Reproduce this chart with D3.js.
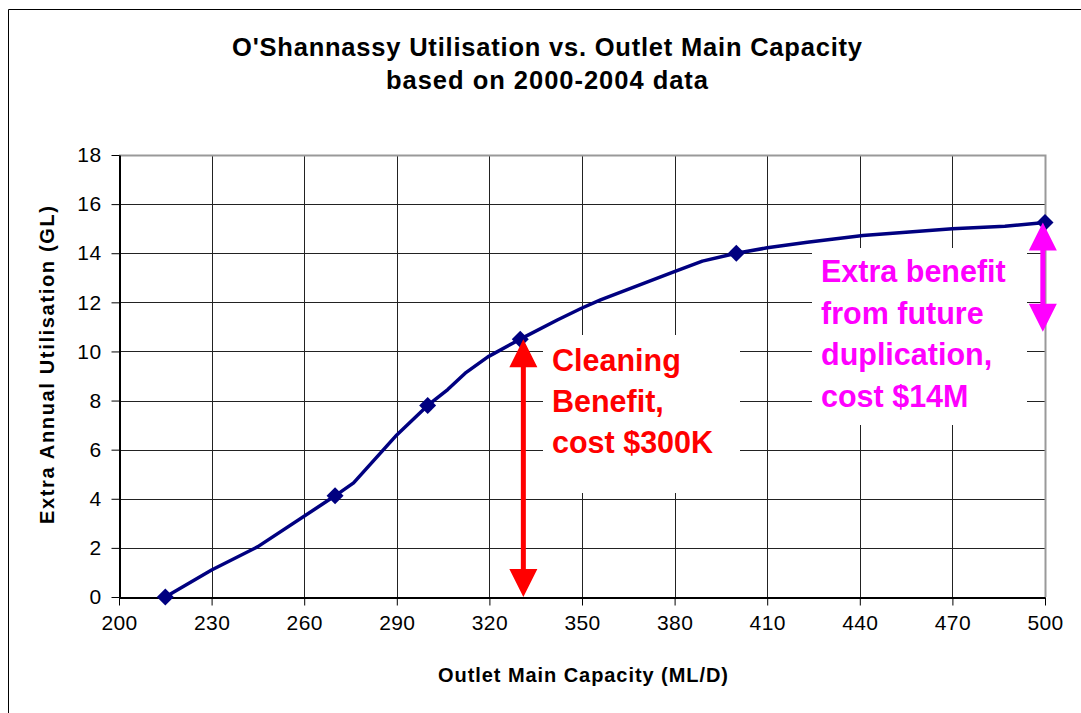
<!DOCTYPE html>
<html><head><meta charset="utf-8">
<script src="https://cdn.jsdelivr.net/npm/d3@7"></script>
<style>
html,body{margin:0;padding:0;background:#fff;}
svg{display:block;font-family:"Liberation Sans",Arial,sans-serif;}
</style></head>
<body>
<svg id="chart" width="1081" height="713"></svg>
<script>
// ---- data ----
const markerX = [215, 270, 300, 330, 400, 500];
const markerY = [0, 4.12, 7.8, 10.5, 14.0, 15.25];
const curveX = [215, 230, 245, 270, 276, 290, 300, 306.5, 312.5, 319.5, 330, 342, 350, 356, 379.5, 389, 400, 410, 423, 441, 470, 487, 500];
const curveY = [0, 1.1, 2.05, 4.12, 4.65, 6.6, 7.8, 8.45, 9.15, 9.78, 10.5, 11.28, 11.77, 12.1, 13.23, 13.68, 14.0, 14.22, 14.45, 14.72, 15.0, 15.1, 15.25];
const xTicks = [200, 230, 260, 290, 320, 350, 380, 410, 440, 470, 500];
const yTicks = [0, 2, 4, 6, 8, 10, 12, 14, 16, 18];
const titleLines = ["O'Shannassy Utilisation vs. Outlet Main Capacity", "based on 2000-2004 data"];
const xTitle = "Outlet Main Capacity (ML/D)";
const yTitle = "Extra Annual Utilisation (GL)";
const cleaningLines = ["Cleaning", "Benefit,", "cost $300K"];
const cleaningRange = [0, 10.5];
const dupLines = ["Extra benefit", "from future", "duplication,", "cost $14M"];
const dupRange = [10.5, 15.25];

const svg = d3.select("#chart");
const L = 119, R = 1045, T = 155, B = 597;
const x = d3.scaleLinear().domain([200, 500]).range([L, R]);
const y = d3.scaleLinear().domain([0, 18]).range([B, T]);

// outer frame
svg.append("path").attr("d", `M8.5,713 L8.5,9.5 L1081,9.5`).attr("fill", "none").attr("stroke", "#000").attr("stroke-width", 1);

// titles
const titleW = [630, 322];
svg.selectAll("text.title").data(titleLines).join("text")
  .attr("x", 547).attr("y", (d, i) => 56 + i * 33)
  .attr("text-anchor", "middle").attr("font-weight", "bold").attr("font-size", 25.5)
  .attr("textLength", (d, i) => titleW[i]).attr("lengthAdjust", "spacing")
  .text(d => d);

// gridlines
const g = svg.append("g");
g.selectAll("line.hg").data(yTicks.filter(d => d > 0 && d < 18)).join("line")
  .attr("x1", L).attr("x2", R).attr("y1", d => Math.round(y(d)) + 0.5).attr("y2", d => Math.round(y(d)) + 0.5)
  .attr("stroke", "#222").attr("stroke-width", 1);
g.selectAll("line.vg").data(xTicks.filter(d => d > 200 && d < 500)).join("line")
  .attr("y1", T).attr("y2", B).attr("x1", d => Math.round(x(d)) + 0.5).attr("x2", d => Math.round(x(d)) + 0.5)
  .attr("stroke", "#222").attr("stroke-width", 1);
// top & right border gray
svg.append("path").attr("d", `M${L},${T + 0.5} L${R + 0.5},${T + 0.5} L${R + 0.5},${B}`)
  .attr("fill", "none").attr("stroke", "#999").attr("stroke-width", 2);

// axes
const xAxis = svg.append("g").attr("transform", `translate(0,${B + 0.5})`)
  .call(d3.axisBottom(x).tickValues(xTicks).tickSize(8).tickSizeOuter(0).tickPadding(10));
const yAxis = svg.append("g").attr("transform", `translate(${L + 0.5},0)`)
  .call(d3.axisLeft(y).tickValues(yTicks).tickSize(8).tickSizeOuter(0).tickPadding(10));
[xAxis, yAxis].forEach(a => {
  a.selectAll("text").attr("font-size", 21).attr("letter-spacing", 0.4)
    .attr("font-family", "Liberation Sans, Arial, sans-serif").attr("fill", "#000");
  a.select(".domain").attr("stroke", "#000").attr("stroke-width", 2);
  a.selectAll(".tick line").attr("stroke", "#000");
});

// axis titles
svg.append("text").attr("x", (L + R) / 2 + 1).attr("y", 682).attr("text-anchor", "middle")
  .attr("font-weight", "bold").attr("font-size", 20)
  .attr("textLength", 290).attr("lengthAdjust", "spacing").text(xTitle);
svg.append("text").attr("transform", `translate(54,365) rotate(-90)`).attr("text-anchor", "middle")
  .attr("font-weight", "bold").attr("font-size", 20)
  .attr("textLength", 318).attr("lengthAdjust", "spacing").text(yTitle);

// white label boxes
svg.append("rect").attr("x", 543).attr("y", 335).attr("width", 197).attr("height", 158).attr("fill", "#fff");
svg.append("rect").attr("x", 812).attr("y", 248).attr("width", 215).attr("height", 177).attr("fill", "#fff");

// curve
const line = d3.line().x(d => x(d[0])).y(d => y(d[1]));
svg.append("path").datum(d3.zip(curveX, curveY)).attr("d", line)
  .attr("fill", "none").attr("stroke", "#000080").attr("stroke-width", 3.5).attr("stroke-linejoin", "round");
svg.selectAll("path.mk").data(d3.zip(markerX, markerY)).join("path")
  .attr("transform", d => `translate(${x(d[0])},${y(d[1])}) rotate(45)`)
  .attr("d", d3.symbol(d3.symbolSquare, 144)).attr("fill", "#000080");

// double arrows
function dblArrow(xv, r, color) {
  const cx = x(xv), y1 = y(r[1]), y2 = y(r[0]);
  const hw = 14, hl = 28, sw = 2.5;
  svg.append("path").attr("d",
    `M${cx},${y1} L${cx + hw},${y1 + hl} L${cx + sw},${y1 + hl} L${cx + sw},${y2 - hl} L${cx + hw},${y2 - hl} L${cx},${y2} ` +
    `L${cx - hw},${y2 - hl} L${cx - sw},${y2 - hl} L${cx - sw},${y1 + hl} L${cx - hw},${y1 + hl} Z`)
    .attr("fill", color);
}
dblArrow(331, cleaningRange, "#FF0000");
dblArrow(499.3, [dupRange[0] + 0.3, dupRange[1]], "#FF00FF");

// annotation texts
svg.selectAll("text.cl").data(cleaningLines).join("text")
  .attr("x", 552).attr("y", (d, i) => 371 + i * 41)
  .attr("font-weight", "bold").attr("font-size", 30.5).attr("fill", "#FF0000").text(d => d);
svg.selectAll("text.dp").data(dupLines).join("text")
  .attr("x", 821).attr("y", (d, i) => 282 + i * 41.5)
  .attr("font-weight", "bold").attr("font-size", 30.5).attr("fill", "#FF00FF").text(d => d);
</script>
</body></html>
